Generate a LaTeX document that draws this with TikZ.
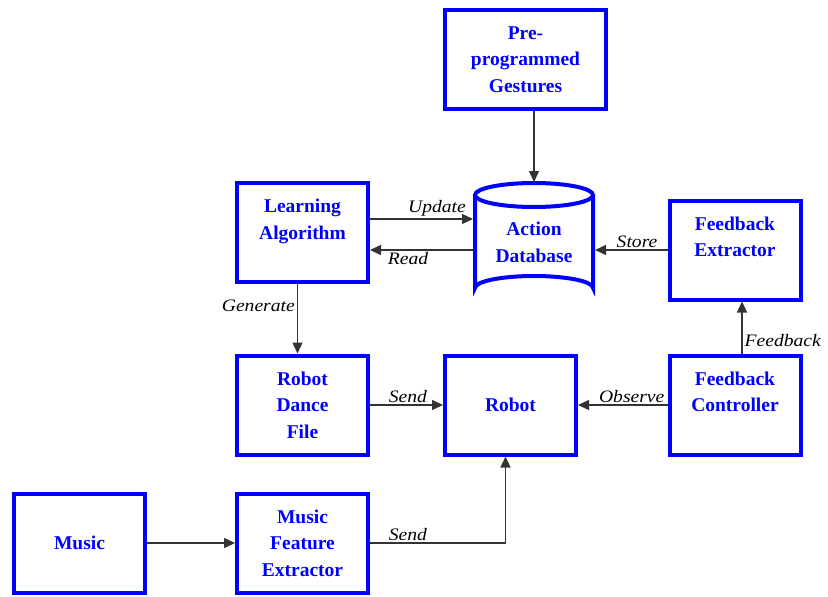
\documentclass[tikz,border=0pt]{standalone}
\usepackage{fontspec}
\setmainfont{Liberation Serif}
\newfontfamily\lblfont[FakeStretch=1.12]{Liberation Serif}
\usetikzlibrary{arrows.meta}
\begin{document}
\begin{tikzpicture}[x=1pt,y=-1pt]
\tikzset{
  blk/.style={draw=blue, line width=4pt, text=blue,
    font=\fontsize{19.5}{26.5}\selectfont\bfseries, align=center,
    minimum width=131pt, minimum height=99pt, inner sep=0pt},
  dbtext/.style={text=blue, font=\fontsize{19.5}{26.5}\selectfont\bfseries,
    align=center, inner sep=0pt, outer sep=0pt,
    minimum width=122pt, minimum height=121pt},
  lbl/.style={font=\lblfont\itshape\fontsize{17.5}{20}\selectfont, inner sep=2pt},
  conn/.style={draw=black!80, line width=1.4pt, -{Triangle[length=11pt,width=10pt]}},
}
\useasboundingbox (0,0) rectangle (828,597);

% blocks
\node[blk, minimum width=161pt] (gest) at (525.5,59.5) {Pre-\\programmed\\Gestures};
\node[blk] (learn) at (302.5,232.5) {Learning\\Algorithm\\\mbox{}};
\node[blk] (fext)  at (735,250)     {Feedback\\Extractor\\\mbox{}};
\node[blk] (dance) at (302.5,405)   {Robot\\Dance\\File};
\node[blk] (robot) at (510.5,405)   {Robot};
\node[blk] (fctrl) at (735,405)     {Feedback\\Controller\\\mbox{}};
\node[blk] (music) at (79.5,543)    {Music};
\node[blk] (mfe)   at (302.5,543)   {Music\\Feature\\Extractor};

% action database cylinder
\draw[blue, line width=4pt] (475,195) -- (475,288)
  arc[start angle=180, end angle=360, x radius=59, y radius=12] -- (593,195);
\draw[blue, line width=4pt] (534,195) ellipse[x radius=59, y radius=12];
\node[dbtext] (db) at (534,242.5) {Action\\Database};

% connectors
\draw[conn] (gest.south -| db.north) -- (db.north);
\draw[conn] ([yshift=13.5pt]learn.east) -- node[lbl, above, pos=0.65] {Update}
  ([yshift=13.5pt]learn.east -| db.west);
\draw[conn] ([yshift=-17.5pt]learn.east -| db.west) -- node[lbl, below, pos=0.63] {Read}
  ([yshift=-17.5pt]learn.east);
\draw[conn] (fext.west) -- node[lbl, above, pos=0.42] {Store} (fext.west -| db.east);
\draw[conn] ([xshift=-5pt]learn.south) -- node[lbl, left, pos=0.32] {Generate}
  ([xshift=-5pt]dance.north);
\draw[conn] (dance.east) -- node[lbl, above, pos=0.52] {Send} (robot.west);
\draw[conn] (fctrl.west) -- node[lbl, above, pos=0.4] {Observe} (robot.east);
\draw[conn] ([xshift=7pt]fctrl.north) -- node[lbl, right, pos=0.25] {Feedback}
  ([xshift=7pt]fext.south);
\draw[conn] (music.east) -- (mfe.west);
\draw[conn] (mfe.east) -- node[lbl, above, pos=0.28] {Send}
  ([xshift=-5pt]robot.south |- mfe.east) -- ([xshift=-5pt]robot.south);
\end{tikzpicture}
\end{document}
